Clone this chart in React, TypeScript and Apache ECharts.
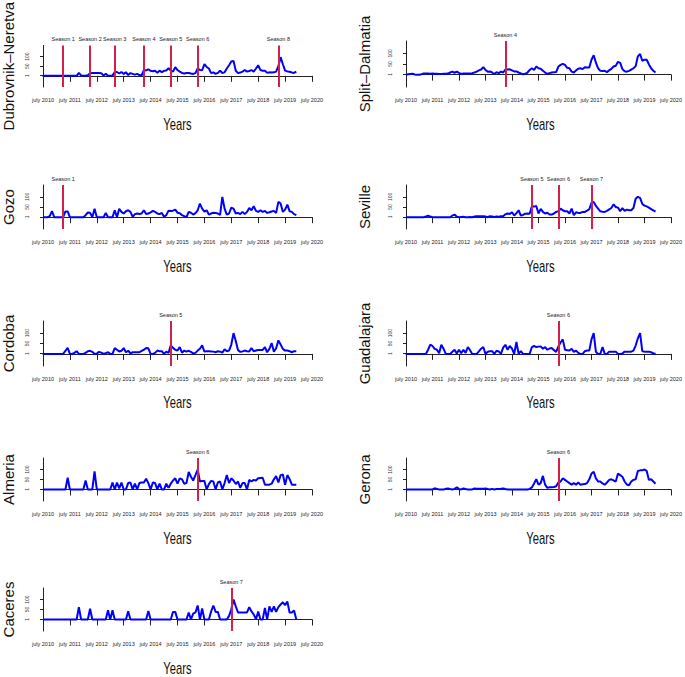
import React, { useEffect, useRef } from "react";
import * as echarts from "echarts";

// Month index 0 = July 2010
const xTickLabels = ["july 2010","july 2011","july 2012","july 2013","july 2014","july 2015","july 2016","july 2017","july 2018","july 2019","july 2020"];
const yTickValues = [1, 50, 100];
const xTitle = "Years";

const dubrovnik = [
  0,0,0,0,0,0,0,0,0,0,0,0,
  0,0,0,0,15,2,0,0,3,14,15,15,
  15,15,14,2,11,1,0,1,20,20,12,20,
  10,19,4,14,10,6,10,4,2,30,28,34,
  26,24,26,16,27,19,26,28,39,27,22,45,
  30,22,15,12,15,15,12,10,14,39,30,29,
  61,46,38,14,18,10,15,27,15,18,38,55,
  74,77,26,14,17,22,30,22,25,30,22,38,
  55,30,26,26,16,18,17,18,22,50,97,60,
  27,23,21,17,15,22
];
const split = [
  0,2,3,4,1,0,0,2,5,6,5,4,
  5,4,4,3,3,4,4,5,10,14,9,14,
  8,3,5,5,6,5,7,10,14,20,24,35,
  22,14,15,10,3,11,7,14,10,24,24,25,
  20,15,15,10,6,2,4,10,22,30,22,38,
  30,28,18,10,4,7,10,11,12,38,46,51,
  46,32,30,14,10,20,28,30,26,35,34,34,
  70,91,56,30,18,17,18,12,20,27,38,42,
  60,55,26,16,14,18,24,30,40,86,97,65,
  70,70,48,30,18,10
];
const gozo = [
  0,0,0,5,30,0,0,0,0,0,28,28,
  0,0,0,0,0,0,0,10,23,22,0,42,
  0,0,0,0,21,0,0,0,34,0,41,26,
  18,29,34,26,2,15,18,16,18,34,16,18,
  24,31,26,18,15,21,2,10,32,30,32,37,
  22,19,10,5,0,26,22,13,20,34,67,42,
  27,34,13,18,22,21,18,11,100,42,13,18,
  47,42,18,21,15,26,15,26,45,34,54,31,
  26,34,26,31,21,24,28,31,21,75,67,26,
  37,62,29,26,15,10
];
const seville = [
  0,0,0,0,0,0,0,0,0,3,8,3,
  0,0,0,0,0,0,0,0,0,8,13,2,
  0,1,2,0,0,1,0,3,4,4,5,4,
  3,0,5,3,1,4,2,5,5,14,18,16,
  24,8,20,34,8,11,17,18,17,54,52,55,
  18,41,26,18,22,13,13,18,26,29,42,34,
  29,29,18,42,10,24,21,21,26,26,32,39,
  70,75,55,42,29,27,26,31,38,45,63,50,
  47,29,45,31,37,34,34,45,90,100,95,65,
  57,53,47,40,33,28
];
const cordoba = [
  0,0,0,0,0,0,0,0,0,0,15,29,
  0,0,5,13,0,0,0,5,13,15,10,0,
  2,10,6,0,4,8,0,0,28,20,12,15,
  28,8,15,3,8,8,8,8,15,20,28,27,
  0,0,5,16,13,13,0,11,5,41,29,20,
  16,33,6,16,11,15,10,3,5,16,25,41,
  11,13,13,12,11,8,13,11,6,22,13,16,
  45,100,62,18,10,12,16,13,12,28,13,16,
  19,19,19,33,8,24,52,11,27,65,45,24,
  16,16,13,8,13,13
];
const guadalajara = [
  0,0,0,0,0,0,0,0,0,0,20,45,
  38,24,20,3,44,25,0,0,0,10,20,2,
  20,3,20,5,33,18,0,0,0,12,25,33,
  0,10,13,13,0,15,12,0,30,44,20,38,
  25,0,57,0,13,0,0,0,0,33,38,33,
  35,36,25,33,20,26,28,18,10,36,55,70,
  20,18,16,25,10,16,5,0,0,13,16,16,
  70,100,10,0,0,33,0,0,11,11,11,11,
  0,0,2,11,11,11,11,16,40,75,100,13,
  11,11,11,8,3,0
];
const almeria = [
  0,0,0,0,0,0,0,0,0,0,0,59,
  0,0,0,0,0,0,0,45,0,0,0,91,
  0,0,0,0,0,0,0,35,0,35,5,35,
  0,0,32,35,0,30,0,32,35,35,54,32,
  0,35,32,0,29,0,0,29,8,29,45,56,
  29,56,51,29,32,88,64,45,72,100,40,43,
  43,0,27,43,40,0,35,40,0,32,72,32,
  56,45,27,40,8,32,32,0,48,40,48,45,
  56,58,59,24,24,24,29,51,67,35,72,75,
  24,72,53,24,24,24
];
const gerona = [
  0,0,0,0,0,0,0,0,0,0,0,0,
  0,6,3,0,0,0,3,5,2,0,3,10,
  3,0,5,2,0,0,0,5,3,3,3,4,
  5,2,0,3,0,2,2,3,5,2,0,0,
  0,0,0,0,0,0,0,0,3,10,30,52,
  24,32,68,24,8,11,11,12,16,35,40,56,
  48,40,32,24,32,24,35,24,26,27,32,51,
  80,88,56,40,40,30,24,35,48,51,45,40,
  80,72,64,40,25,21,40,48,51,93,96,96,
  100,93,48,51,40,29
];
const caceres = [
  0,0,0,0,0,0,0,0,0,0,0,0,
  0,0,0,0,62,0,0,0,0,54,0,0,
  0,0,0,0,0,46,0,46,0,0,0,0,
  0,0,41,0,0,0,0,0,0,0,0,43,
  0,0,0,0,0,0,0,0,0,0,38,38,
  0,0,0,0,0,35,0,29,35,70,0,55,
  0,0,0,40,70,38,38,0,0,0,0,18,
  51,100,66,35,35,35,35,35,62,40,26,0,
  40,0,0,58,0,66,38,66,38,62,75,86,
  72,90,35,35,45,0
];

const regions = ["Dubrovnik–Neretva","Split–Dalmatia","Gozo","Seville","Cordoba","Guadalajara","Almeria","Gerona","Caceres"];
const regionValues = [dubrovnik, split, gozo, seville, cordoba, guadalajara, almeria, gerona, caceres];
const seasonLabels = [
  ["Season 1","Season 2","Season 3","Season 4","Season 5","Season 6","Season 8"],
  ["Season 4"],
  ["Season 1"],
  ["Season 5","Season 6","Season 7"],
  ["Season 5"],
  ["Season 6"],
  ["Season 6"],
  ["Season 6"],
  ["Season 7"],
];
// premiere month index (months since July 2010)
const seasonMonths = [
  [9,21,32,45,57,69,105],
  [45],
  [9],
  [57,69,84],
  [57],
  [69],
  [69],
  [69],
  [84],
];

const FONT = "'Liberation Sans', Arial, sans-serif";
const colLeft = [43, 406];
const gridWidth = 269;
const rowTop = [41, 185, 321, 458, 588];
const rowHeight = [46, 44, 45, 43, 43];
const titleY = [124, 266, 402, 538, 668];
const nameGaps = [19, 26];

export default function App() {
  const ref = useRef<HTMLDivElement>(null);
  useEffect(() => {
    if (!ref.current) return;
    const chart = echarts.init(ref.current, null, { renderer: "svg" });
    const grids: any[] = [];
    const xAxes: any[] = [];
    const yAxes: any[] = [];
    const series: any[] = [];
    const graphics: any[] = [];
    regions.forEach((name, i) => {
      const col = i % 2;
      const row = Math.floor(i / 2);
      grids.push({ left: colLeft[col], top: rowTop[row], width: gridWidth, height: rowHeight[row], containLabel: false });
      xAxes.push({
        type: "value", gridIndex: i, min: 0, max: 120, interval: 12,
        axisLine: { show: true, lineStyle: { color: "#222", width: 1 } },
        axisTick: { show: true, length: 6, lineStyle: { color: "#222" } },
        axisLabel: { fontFamily: FONT, fontSize: 5.5, color: "#222", margin: 10,
          formatter: (v: number) => xTickLabels[Math.round(v / 12)] ?? "" },
        splitLine: { show: false },
      });
      yAxes.push({
        type: "value", gridIndex: i, min: -58, max: 158, offset: 8,
        name, nameLocation: "middle", nameGap: nameGaps[col],
        nameTextStyle: { fontFamily: FONT, fontSize: 15, color: "#111" },
        axisLine: { show: true, lineStyle: { color: "#222", width: 1 } },
        axisTick: { show: true, length: 3, customValues: yTickValues, lineStyle: { color: "#222" } },
        axisLabel: { show: true, fontFamily: FONT, fontSize: 5, color: "#333", rotate: 90, margin: 6,
          customValues: yTickValues, formatter: (v: number) => String(v) },
        splitLine: { show: false },
      });
      series.push({
        type: "line", xAxisIndex: i, yAxisIndex: i, z: 2,
        data: regionValues[i].map((v, k) => [k, v]),
        symbol: "none", showSymbol: false,
        lineStyle: { color: "#0000FF", width: 2 },
      });
      series.push({
        type: "line", xAxisIndex: i, yAxisIndex: i, z: 4, data: [],
        markLine: {
          silent: true, symbol: ["none", "none"],
          lineStyle: { color: "#D3204A", width: 2, type: "solid" },
          label: { show: true, position: "end", distance: 3, fontFamily: FONT, fontSize: 5.5, color: "#222",
            formatter: (p: any) => p.name },
          data: seasonMonths[i].map((m, k) => ({ xAxis: m, name: seasonLabels[i][k] })),
        },
      });
      graphics.push({
        type: "text",
        x: colLeft[col] + gridWidth / 2,
        y: titleY[row],
        scaleX: 0.66,
        style: { text: xTitle, fontFamily: FONT, fontSize: 17, fill: "#111", textAlign: "center", textVerticalAlign: "middle" },
      });
    });
    chart.setOption({
      animation: false,
      backgroundColor: "#ffffff",
      grid: grids, xAxis: xAxes, yAxis: yAxes, series,
      graphic: graphics,
    });
    return () => chart.dispose();
  }, []);
  return <div ref={ref} style={{ position: "absolute", left: 0, top: 0, width: 685, height: 677 }} />;
}
